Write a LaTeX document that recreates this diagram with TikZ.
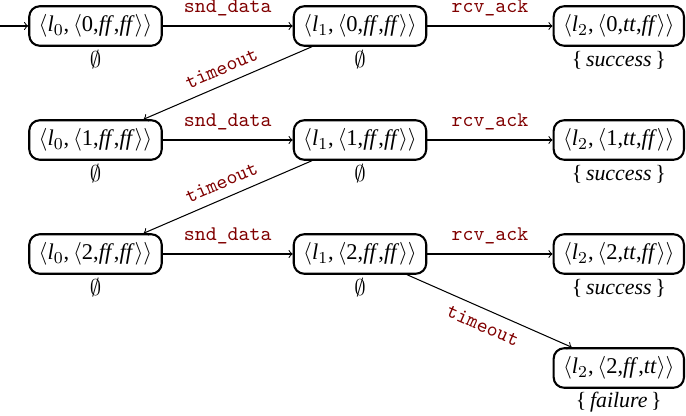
\documentclass[tikz,border=0pt]{standalone}
\usepackage{fontspec}
\setmainfont{Liberation Serif}
\definecolor{actred}{RGB}{128,0,0}
% configuration < l_i , < n, a, b > >
\newcommand{\cfg}[4]{$\langle$\textit{l}$_{#1}$,\,$\langle$#2,#3,#4$\rangle\rangle$}
\newcommand{\fv}{\textit{ff}\/}
\newcommand{\tv}{\textit{tt}\/}
\newcommand{\obs}[1]{\{\,\textit{#1}\,\}}
\begin{document}
\begin{tikzpicture}[x=0.48pt,y=-0.48pt,
  state/.style={draw, line width=1pt, rounded corners=5pt,
    font=\fontsize{10.8}{13}\selectfont,
    inner xsep=4.5pt, inner ysep=4pt, minimum height=18.4pt},
  obsv/.style={inner sep=1pt, font=\fontsize{10.5}{12}\selectfont},
  act/.style={font=\ttfamily, text=actred},
  trans/.style={->, line width=0.5pt}]
\useasboundingbox (0,0) rectangle (686,416);

% states
\node[state] (a0) at (95.5,26) {\cfg{0}{0}{\fv}{\fv}};
\node[state] (b0) at (360,26) {\cfg{1}{0}{\fv}{\fv}};
\node[state, anchor=east] (c0) at (685,26) {\cfg{2}{0}{\tv}{\fv}};

\node[state] (a1) at (95.5,140) {\cfg{0}{1}{\fv}{\fv}};
\node[state] (b1) at (360,140) {\cfg{1}{1}{\fv}{\fv}};
\node[state, anchor=east] (c1) at (685,140) {\cfg{2}{1}{\tv}{\fv}};

\node[state] (a2) at (95.5,254) {\cfg{0}{2}{\fv}{\fv}};
\node[state] (b2) at (360,254) {\cfg{1}{2}{\fv}{\fv}};
\node[state, anchor=east] (c2) at (685,254) {\cfg{2}{2}{\tv}{\fv}};

\node[state, anchor=east] (d2) at (685,368) {\cfg{2}{2}{\fv}{\tv}};

% observations
\node[obsv] (oa0) at (a0 |- 0,60) {$\emptyset$};
\node[obsv] (ob0) at (b0 |- 0,60) {$\emptyset$};
\node[obsv] (oc0) at (c0 |- 0,60) {\obs{success}};
\node[obsv] (oa1) at (a1 |- 0,174) {$\emptyset$};
\node[obsv] (ob1) at (b1 |- 0,174) {$\emptyset$};
\node[obsv] (oc1) at (c1 |- 0,174) {\obs{success}};
\node[obsv] (oa2) at (a2 |- 0,288) {$\emptyset$};
\node[obsv] (ob2) at (b2 |- 0,288) {$\emptyset$};
\node[obsv] (oc2) at (c2 |- 0,288) {\obs{success}};
\node[obsv] (od2) at (d2 |- 0,402) {\obs{failure}};

% initial arrow
\coordinate (init) at (0,26);
\draw[trans] (init) -- (a0);

% transitions
\draw[trans] (a0) -- node[act, above=1pt] {snd\_data} (b0);
\draw[trans] (b0) -- node[act, above=1pt] {rcv\_ack} (c0);
\draw[trans] (b0) -- node[act, sloped, above=1pt] {timeout} (a1);

\draw[trans] (a1) -- node[act, above=1pt] {snd\_data} (b1);
\draw[trans] (b1) -- node[act, above=1pt] {rcv\_ack} (c1);
\draw[trans] (b1) -- node[act, sloped, above=1pt] {timeout} (a2);

\draw[trans] (a2) -- node[act, above=1pt] {snd\_data} (b2);
\draw[trans] (b2) -- node[act, above=1pt] {rcv\_ack} (c2);
\draw[trans] (b2) -- node[act, sloped, below=1pt] {timeout} (d2);
\end{tikzpicture}
\end{document}
